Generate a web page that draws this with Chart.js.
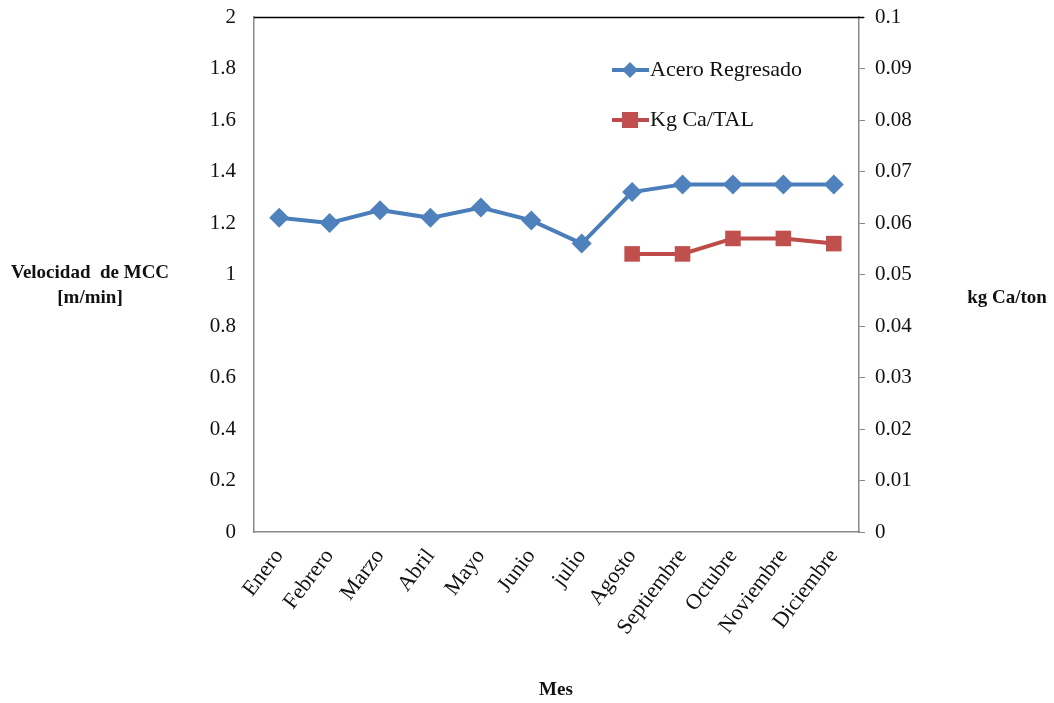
<!DOCTYPE html>
<html>
<head>
<meta charset="utf-8">
<script src="https://cdn.jsdelivr.net/npm/chart.js"></script>
<style>
  body { margin: 0; background: #fff; }
  #wrap { width: 1054px; height: 703px; }
</style>
</head>
<body>
<div id="wrap"><canvas id="grafico" width="1054" height="703"></canvas></div>
<script>
var meses = ['Enero', 'Febrero', 'Marzo', 'Abril', 'Mayo', 'Junio', 'julio', 'Agosto', 'Septiembre', 'Octubre', 'Noviembre', 'Diciembre'];
var aceroRegresado = [1.22, 1.20, 1.25, 1.22, 1.26, 1.21, 1.12, 1.32, 1.35, 1.35, 1.35, 1.35];
var kgCaTal = [null, null, null, null, null, null, null, 0.054, 0.054, 0.057, 0.057, 0.056];
var ticksIzq = [0, 0.2, 0.4, 0.6, 0.8, 1, 1.2, 1.4, 1.6, 1.8, 2];
var ticksDer = [0, 0.01, 0.02, 0.03, 0.04, 0.05, 0.06, 0.07, 0.08, 0.09, 0.1];

var fuente = 'Liberation Serif, Times New Roman, serif';

// leyenda y titulos de ejes dibujados a mano
var extras = {
  id: 'extras',
  afterDraw: function (chart) {
    var c = chart.ctx;
    var a = chart.chartArea;
    c.save();
    // linea superior negra
    c.strokeStyle = '#000';
    c.lineWidth = 1.5;
    c.beginPath();
    c.moveTo(a.left, a.top + 0.5);
    c.lineTo(a.right + 5, a.top + 0.5);
    c.stroke();

    // leyenda
    var items = [
      { txt: 'Acero Regresado', color: '#4A7EBB', fill: '#4F81BD', forma: 'rectRot', y: 70 },
      { txt: 'Kg Ca/TAL', color: '#BE4B48', fill: '#C0504D', forma: 'rect', y: 120 }
    ];
    items.forEach(function (it) {
      c.strokeStyle = it.color;
      c.lineWidth = 4;
      c.beginPath();
      c.moveTo(612, it.y);
      c.lineTo(649, it.y);
      c.stroke();
      c.fillStyle = it.fill;
      if (it.forma === 'rectRot') {
        c.beginPath();
        c.moveTo(630, it.y - 8);
        c.lineTo(638, it.y);
        c.lineTo(630, it.y + 8);
        c.lineTo(622, it.y);
        c.closePath();
        c.fill();
      } else {
        c.fillRect(622, it.y - 8, 16, 16);
      }
      c.fillStyle = '#111';
      c.font = '22px ' + fuente;
      c.textAlign = 'left';
      c.textBaseline = 'middle';
      c.fillText(it.txt, 650, it.y);
    });

    // titulos de ejes
    c.fillStyle = '#111';
    c.font = 'bold 19px ' + fuente;
    c.textAlign = 'center';
    c.textBaseline = 'middle';
    c.fillText('Velocidad  de MCC', 90, 273);
    c.fillText('[m/min]', 90, 298);
    c.fillText('kg Ca/ton', 1007, 298);
    c.fillText('Mes', 556, 690);
    c.restore();
  }
};

function ancho(w) {
  return function (s) {
    s.width = w;
    s.paddingTop = 0;
    s.paddingBottom = 0;
  };
}

new Chart(document.getElementById('grafico'), {
  type: 'line',
  data: {
    labels: meses,
    datasets: [
      {
        label: 'Acero Regresado',
        data: aceroRegresado,
        yAxisID: 'y',
        borderColor: '#4A7EBB',
        backgroundColor: '#4F81BD',
        borderWidth: 4,
        pointStyle: 'rectRot',
        pointRadius: 10,
        pointBorderWidth: 0,
        tension: 0
      },
      {
        label: 'Kg Ca/TAL',
        data: kgCaTal,
        yAxisID: 'y1',
        borderColor: '#BE4B48',
        backgroundColor: '#C0504D',
        borderWidth: 4,
        pointStyle: 'rect',
        pointRadius: 11,
        pointBorderWidth: 0,
        tension: 0
      }
    ]
  },
  options: {
    responsive: false,
    animation: false,
    layout: { padding: { top: 17, left: 0, right: 0, bottom: 0 } },
    plugins: {
      legend: { display: false },
      title: { display: false },
      tooltip: { enabled: false }
    },
    scales: {
      x: {
        offset: true,
        grid: { display: false },
        border: { color: '#888', width: 1.5 },
        ticks: {
          color: '#111',
          font: { family: fuente, size: 22 },
          maxRotation: 53,
          minRotation: 53,
          autoSkip: false,
          padding: 4
        },
        afterFit: function (s) { s.height = 171; }
      },
      y: {
        position: 'left',
        min: 0,
        max: 2,
        grid: { display: false },
        border: { color: '#888', width: 1.5 },
        afterBuildTicks: function (s) { s.ticks = ticksIzq.map(function (v) { return { value: v }; }); },
        ticks: {
          color: '#111',
          font: { family: fuente, size: 21 },
          padding: 10,
          callback: function (v) { return String(v); }
        },
        afterFit: ancho(254)
      },
      y1: {
        position: 'right',
        min: 0,
        max: 0.1,
        grid: { display: true, drawOnChartArea: false, color: '#888', tickLength: 6 },
        border: { color: '#888', width: 1.5 },
        afterBuildTicks: function (s) { s.ticks = ticksDer.map(function (v) { return { value: v }; }); },
        ticks: {
          color: '#111',
          font: { family: fuente, size: 21 },
          padding: 10,
          callback: function (v) { return String(v); }
        },
        afterFit: ancho(195)
      }
    }
  },
  plugins: [extras]
});
</script>
</body>
</html>
